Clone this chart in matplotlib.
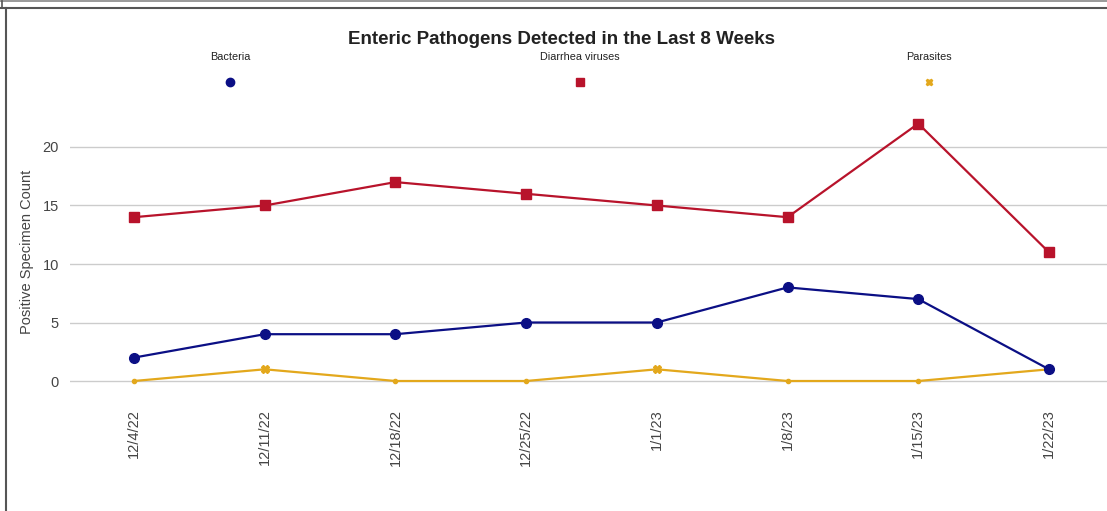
import matplotlib
matplotlib.use("Agg")
import matplotlib.pyplot as plt
from matplotlib.lines import Line2D
import numpy as np

dates = ["12/4/22", "12/11/22", "12/18/22", "12/25/22", "1/1/23", "1/8/23", "1/15/23", "1/22/23"]
bacteria = [2, 4, 4, 5, 5, 8, 7, 1]
diarrhea_viruses = [14, 15, 17, 16, 15, 14, 22, 11]
parasites = [0, 1, 0, 0, 1, 0, 0, 1]
series_names = ["Bacteria", "Diarrhea viruses", "Parasites"]
y_ticks = [0, 5, 10, 15, 20]

c_bac = "#0b0f85"
c_dia = "#b8132b"
c_par = "#e3a81c"

plt.rcParams['font.family'] = ['Liberation Sans', 'DejaVu Sans']

W, H = 1107, 511
fig = plt.figure(figsize=(W / 100, H / 100), dpi=100)

def fx(px):
    return px / W

def fy(py):
    return 1 - py / H

ax = fig.add_axes([fx(70), fy(395), fx(1107) - fx(70), fy(100) - fy(395)])
x = np.arange(len(dates))

ax.plot(x, parasites, color=c_par, lw=1.6, zorder=2)
par = np.array(parasites)
ax.plot(x[par > 0], par[par > 0], ls='none', marker='X', ms=6, color=c_par, zorder=2.5)
ax.plot(x[par == 0], par[par == 0], ls='none', marker='o', ms=3, color=c_par, zorder=2.5)
ax.plot(x, diarrhea_viruses, color=c_dia, lw=1.6, marker='s', ms=6.5, zorder=3)
ax.plot(x, bacteria, color=c_bac, lw=1.6, marker='o', ms=7, zorder=4)

step = (1049 - 134) / 7
ax.set_xlim(-(134 - 70) / step, 7 + (1107 - 1049) / step)
ax.set_ylim(-(395 - 381) / 11.7, (381 - 100) / 11.7)
ax.set_yticks(y_ticks)
ax.set_yticklabels([str(v) for v in y_ticks])
ax.set_xticks(x)
ax.set_xticklabels(dates, rotation=90, va='top', ha='center')
ax.tick_params(axis='x', length=0, pad=10, labelsize=10.5, labelcolor='#444444')
ax.tick_params(axis='y', length=0, pad=8, labelsize=10.5, labelcolor='#444444')
ax.grid(axis='y', color='#cccccc', lw=1)
ax.set_axisbelow(True)
for s in ax.spines.values():
    s.set_visible(False)
ax.patch.set_alpha(0)

fig.text(fx(27), fy(252), "Positive Specimen Count", rotation=90, ha='center', va='center',
         fontsize=10.5, color='#444444')
fig.text(fx(562), fy(40), "Enteric Pathogens Detected in the Last 8 Weeks", ha='center', va='center',
         fontsize=13.5, fontweight='bold', color='#222222')

legend_x = [230, 580, 929]
colors = [c_bac, c_dia, c_par]
markers = ['o', 's', 'X']
sizes = [6, 5.5, 5]
for name, lx, c, m, s in zip(series_names, legend_x, colors, markers, sizes):
    fig.text(fx(lx), fy(57), name, ha='center', va='center', fontsize=7.8, color='#222222')
    fig.add_artist(Line2D([fx(lx)], [fy(82)], marker=m, ms=s, color=c, ls='none',
                          transform=fig.transFigure))

# frame lines
fig.add_artist(Line2D([0, 1], [fy(1.5), fy(1.5)], color='#888888', lw=1.2, transform=fig.transFigure))
fig.add_artist(Line2D([0, 1], [fy(8.5), fy(8.5)], color='#555555', lw=1.5, transform=fig.transFigure))
fig.add_artist(Line2D([fx(1.5), fx(1.5)], [fy(1.5), fy(8.5)], color='#555555', lw=1.2, transform=fig.transFigure))
fig.add_artist(Line2D([fx(6), fx(6)], [fy(8.5), fy(511)], color='#555555', lw=1.5, transform=fig.transFigure))

fig.savefig("out.png", dpi=100)
